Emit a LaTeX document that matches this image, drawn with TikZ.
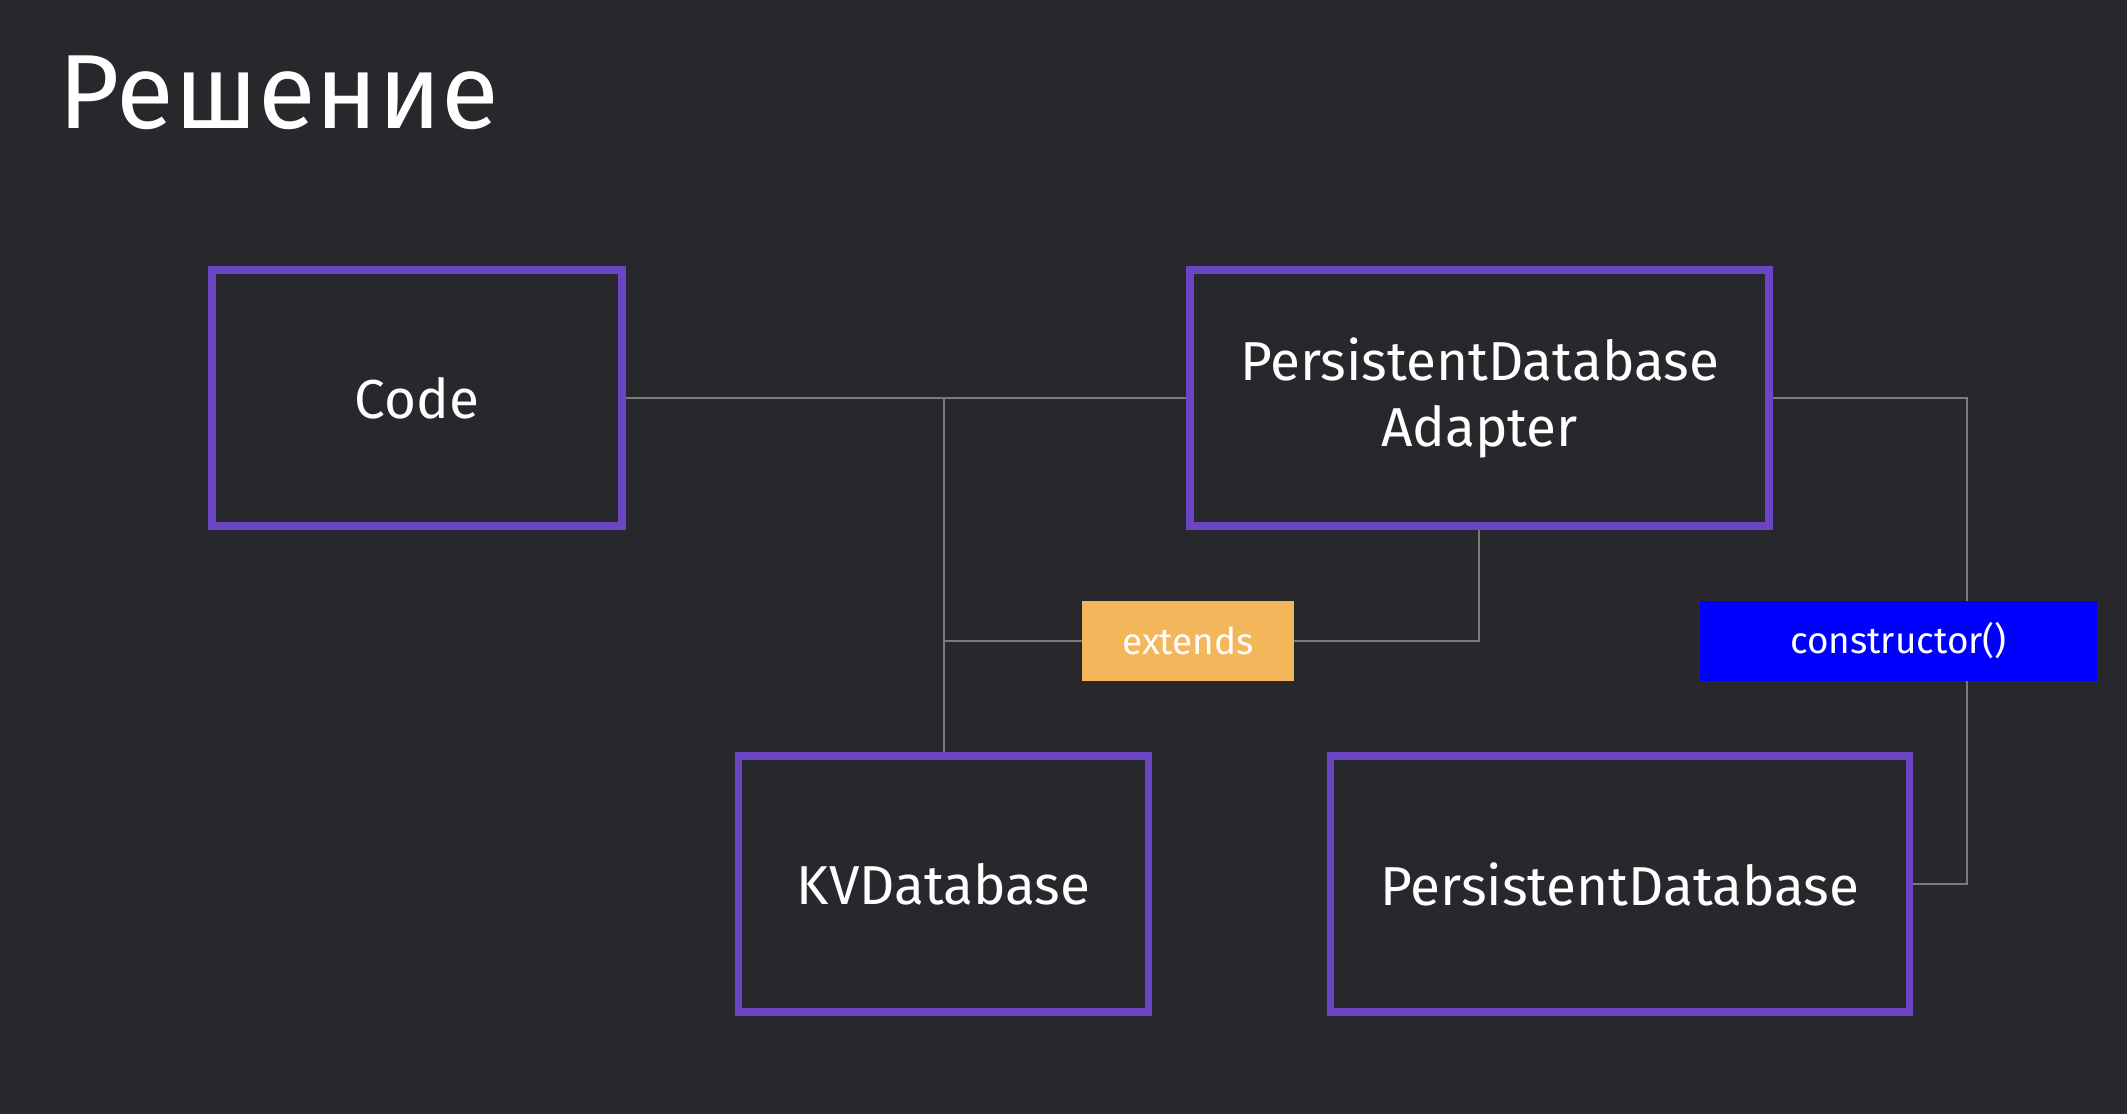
\documentclass[tikz,border=0pt]{standalone}
\usepackage{fontspec}
\setmainfont{Fira Sans}
\definecolor{bg}{HTML}{28272C}
\definecolor{boxpurple}{HTML}{6C45C5}
\definecolor{wire}{HTML}{7A7A7A}
\definecolor{tagorange}{HTML}{F4B65A}
\definecolor{tagblue}{HTML}{0000FF}
\begin{document}
\begin{tikzpicture}[x=0.01cm,y=-0.01cm,
  classbox/.style={draw=boxpurple,line width=2.1pt,fill=bg,text=white,minimum width=4.1cm,minimum height=2.56cm,inner sep=0pt,align=center,font=\fontsize{15.6}{18.6}\selectfont},
  widebox/.style={classbox,minimum width=5.79cm},
  tag/.style={inner sep=0pt,minimum height=0.8cm,text=white,font=\fontsize{10.5}{12}\selectfont},
  wireline/.style={draw=wire,line width=0.6pt}]
\fill[bg] (0,0) rectangle (2127,1114);
\useasboundingbox (0,0) rectangle (2127,1114);
\node[anchor=base west,text=white,font=\fontsize{30}{36}\selectfont,inner sep=0pt] (title) at (58,128) {Решение};
\coordinate (j1) at (944,398);
\coordinate (j2) at (944,641);
\coordinate (j3) at (1479,641);
\coordinate (r1) at (1967,398);
\coordinate (r2) at (1967,884);
\draw[wireline] (625,398) -- (1187,398);
\draw[wireline] (j1) -- (944,753);
\draw[wireline] (j2) -- (1082,641);
\draw[wireline] (1294,641) -- (j3) -- (1479,529);
\draw[wireline] (1772,398) -- (r1) -- (1967,601);
\draw[wireline] (1967,681) -- (r2) -- (1913,884);
\node[classbox] (code) at (417,398) {Code};
\node[widebox] (pda) at (1479.5,398) {PersistentDatabase\\Adapter};
\node[classbox] (kv) at (943.5,884) {KVDatabase};
\node[widebox] (pd) at (1620,884) {PersistentDatabase};
\node[tag,fill=tagorange,minimum width=2.11cm] (ext) at (1188,641) {extends};
\node[tag,fill=tagblue,minimum width=3.97cm] (ctor) at (1898.5,641) {constructor()};
\end{tikzpicture}
\end{document}
